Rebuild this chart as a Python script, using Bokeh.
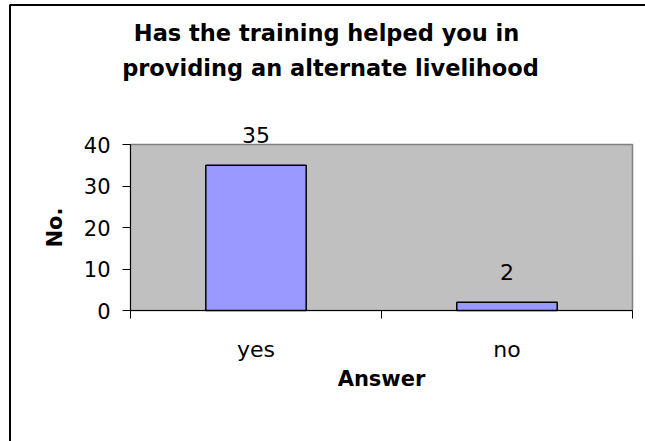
import math
from bokeh.plotting import figure
from bokeh.models import Range1d, FixedTicker, Label, LabelSet, ColumnDataSource
from bokeh.core.properties import value
from bokeh.embed import file_html
from bokeh.resources import INLINE

# ---- data ----
categories = ["yes", "no"]
counts = [35, 2]
y_ticks = [0, 10, 20, 30, 40]
title_lines = ["Has the training  helped you in", "providing an alternate livelihood"]
x_title = "Answer"
y_title = "No."

FONT = "DejaVu Sans"
W, H = 645, 441

# ---- layout (pixels) : the whole canvas is the frame, axes are pinned at 0 ----
WALL_LEFT, WALL_RIGHT, WALL_TOP, WALL_BOTTOM = 130, 632, 144, 310
PX_X = (WALL_RIGHT - WALL_LEFT) / len(categories)
PX_Y = (WALL_BOTTOM - WALL_TOP) / y_ticks[-1]


def px_to_x(px):
    return (px - WALL_LEFT) / PX_X


def py_to_y(py):
    return (WALL_BOTTOM - py) / PX_Y


positions = [i + 0.5 for i in range(len(categories))]
boundaries = list(range(len(categories) + 1))
y_max = y_ticks[-1]
source = ColumnDataSource(dict(x=positions, top=counts,
                               label=[str(c) for c in counts]))

p = figure(width=W, height=H, output_backend="svg", toolbar_location=None,
           x_range=Range1d(px_to_x(0), px_to_x(W)),
           y_range=Range1d(py_to_y(H), py_to_y(0)),
           min_border_left=0, min_border_right=0,
           min_border_top=0, min_border_bottom=0,
           background_fill_color="white", border_fill_color="white")
p.grid.visible = False
p.outline_line_color = None

# chart-area border (left and top edges)
bx, by = px_to_x(9.5), py_to_y(4.5)
p.line(x=[bx, bx, px_to_x(W + 5)], y=[py_to_y(H + 5), by, by],
       line_color="black", line_width=2)

# plot area (grey wall)
p.quad(left=[boundaries[0]], right=[boundaries[-1]], bottom=[y_ticks[0]], top=[y_max],
       fill_color="#C0C0C0", line_color="#808080", line_width=1.5)

p.vbar(x="x", top="top", width=0.4, source=source,
       fill_color="#9999FF", line_color="black", line_width=1.5)

# x axis
xa = p.xaxis[0]
xa.fixed_location = 0
xa.bounds = (boundaries[0], boundaries[-1])
xa.ticker = FixedTicker(ticks=positions, minor_ticks=boundaries)
xa.major_label_overrides = {pos: cat for pos, cat in zip(positions, categories)}
xa.major_tick_out = 0
xa.major_tick_in = 0
xa.minor_tick_out = 8
xa.minor_tick_in = 0
xa.minor_tick_line_color = "black"
xa.axis_line_color = "black"
xa.major_label_text_font = FONT
xa.major_label_text_font_size = "22px"
xa.major_label_text_color = "black"
xa.major_label_standoff = 18

# y axis
ya = p.yaxis[0]
ya.fixed_location = 0
ya.bounds = (y_ticks[0], y_max)
ya.ticker = FixedTicker(ticks=y_ticks)
ya.major_tick_out = 8
ya.major_tick_in = 0
ya.minor_tick_out = 0
ya.minor_tick_in = 0
ya.major_tick_line_color = "black"
ya.axis_line_color = "black"
ya.major_label_text_font = FONT
ya.major_label_text_font_size = "21px"
ya.major_label_text_color = "black"
ya.major_label_standoff = 12

# axis titles
p.add_layout(Label(x=sum(boundaries[::len(boundaries) - 1]) / 2, y=py_to_y(378),
                   text=x_title, text_align="center", text_baseline="alphabetic",
                   text_font=FONT, text_font_style="bold", text_font_size="21px",
                   text_color="black"))
p.add_layout(Label(x=px_to_x(54), y=y_max / 2, text=y_title, angle=math.pi / 2,
                   text_align="center", text_baseline="alphabetic",
                   text_font=FONT, text_font_style="bold", text_font_size="21px",
                   text_color="black"))

# value labels
p.add_layout(LabelSet(x="x", y="top", text="label", source=source, y_offset=22,
                      text_align="center", text_baseline="alphabetic",
                      text_font=value(FONT), text_font_size=value("22px"),
                      text_color="black"))

# two-line title
for line, py in zip(title_lines, [32.8, 67.6]):
    p.add_layout(Label(x=px_to_x(330), y=py_to_y(py), text=line, text_align="center",
                       text_baseline="alphabetic", text_font=FONT,
                       text_font_style="bold", text_font_size="22.5px",
                       text_color="black"))

open("out.html", "w").write(file_html(p, INLINE))
